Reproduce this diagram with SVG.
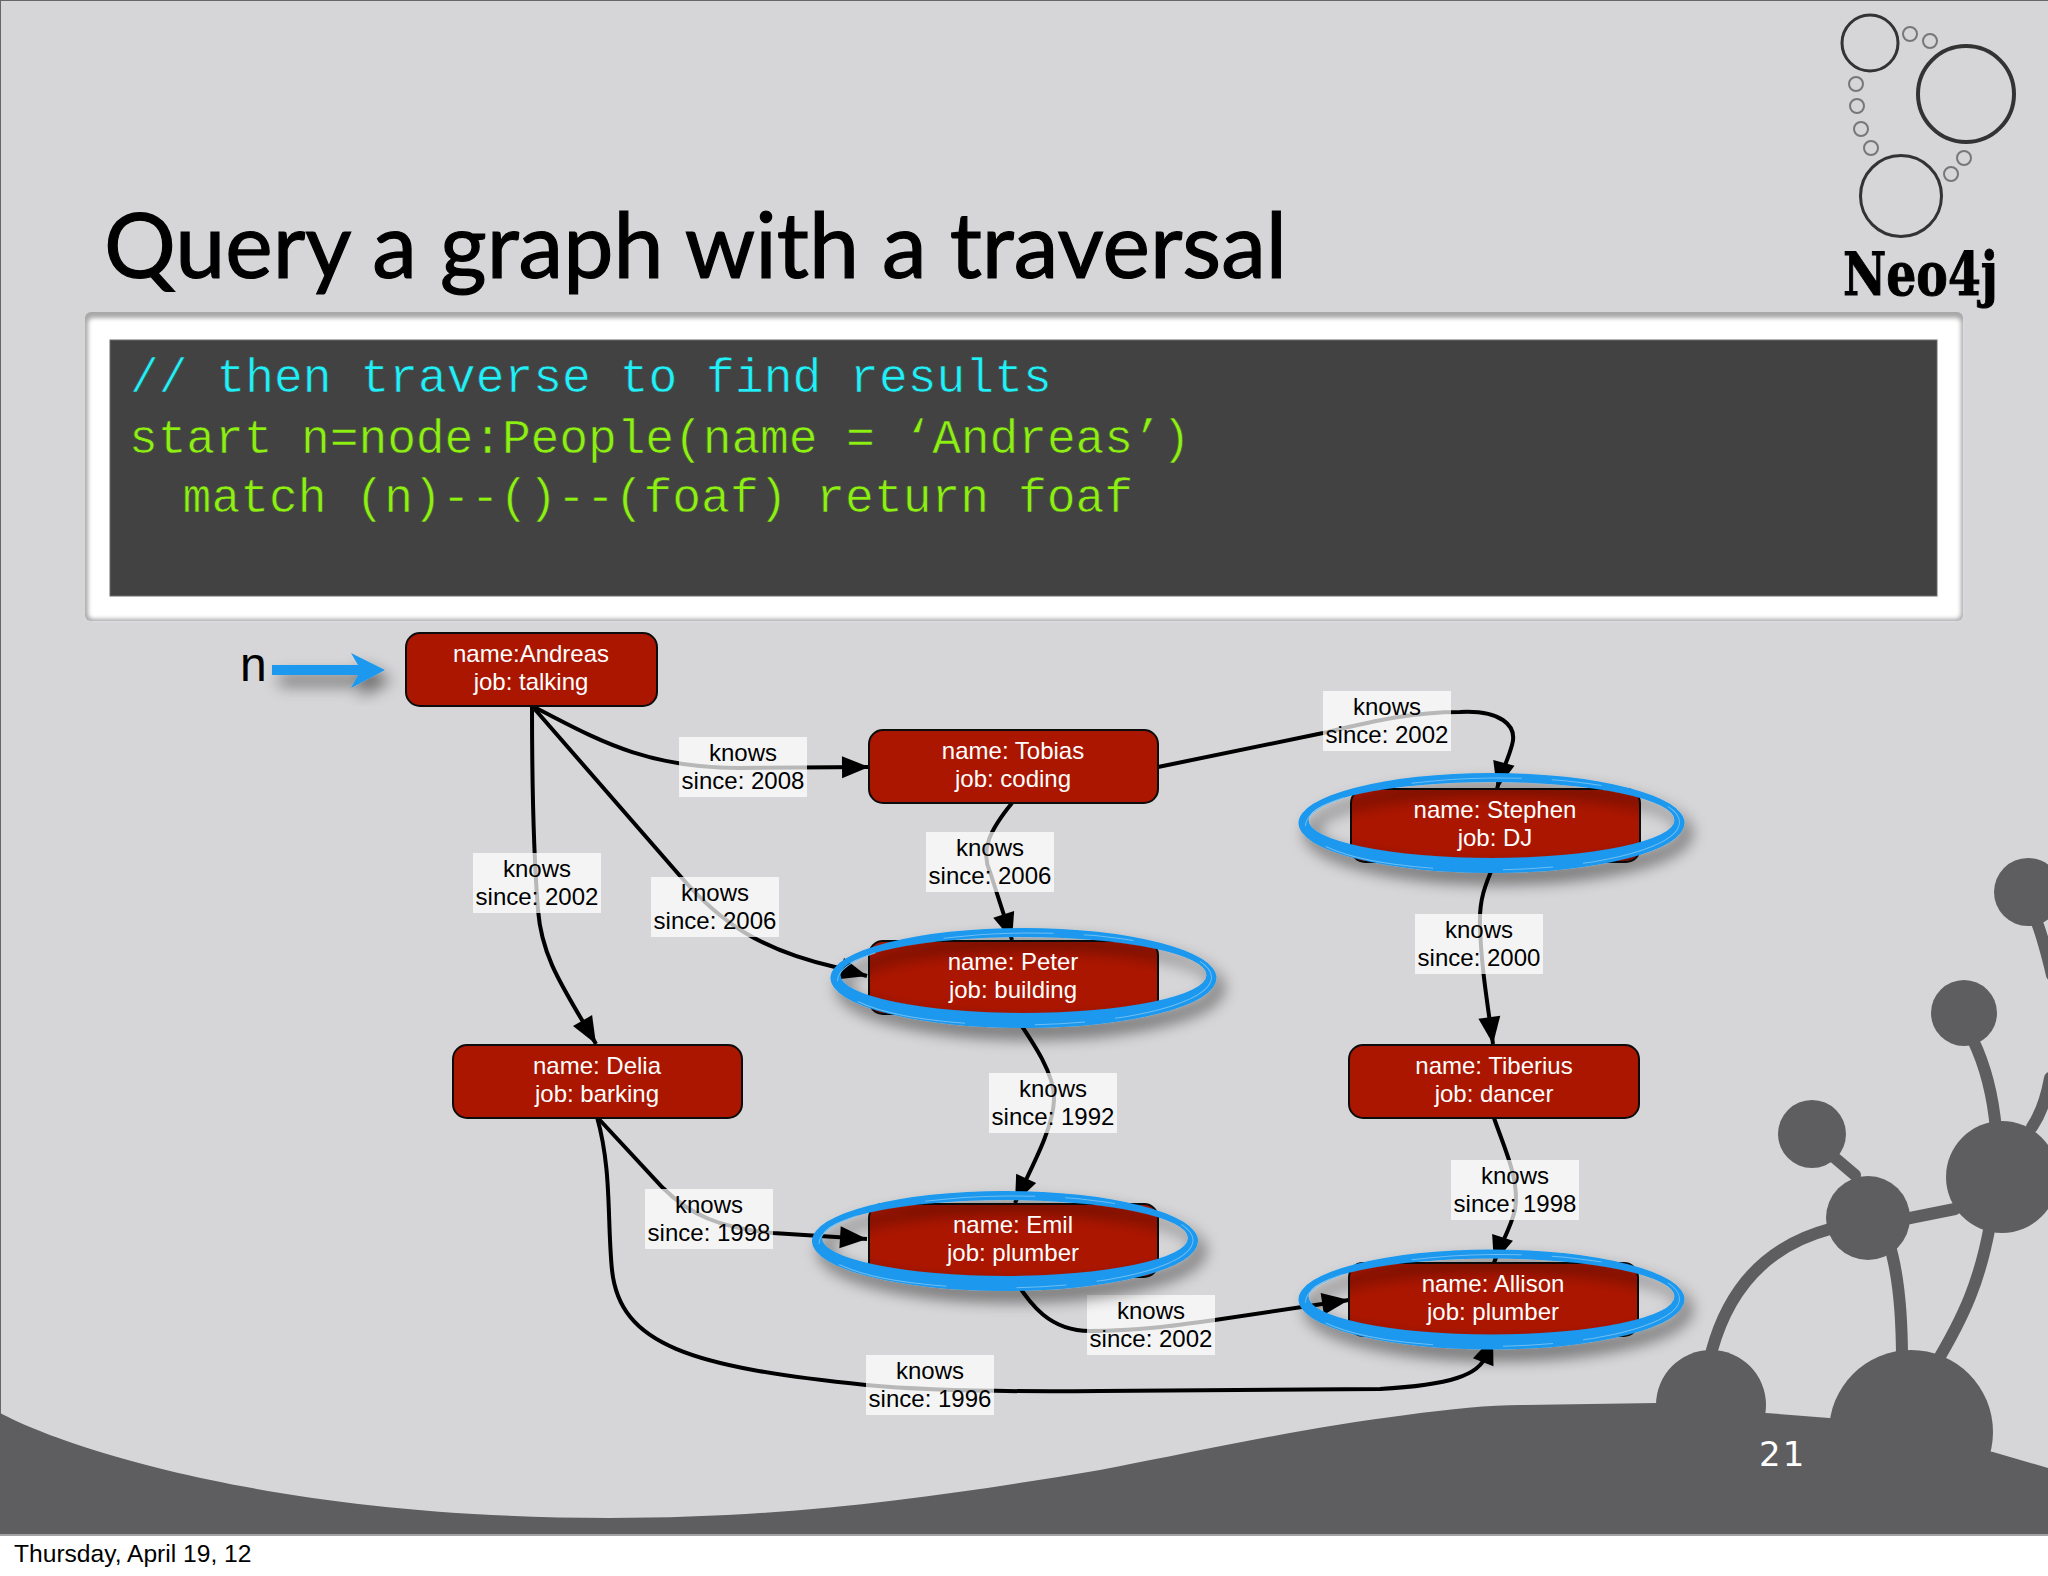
<svg xmlns="http://www.w3.org/2000/svg" xmlns:xlink="http://www.w3.org/1999/xlink" width="2048" height="1576" viewBox="0 0 2048 1576">
<style>
.dark{fill:#5e5d5f}
.stem{fill:none;stroke:#5e5d5f;stroke-width:12;stroke-linecap:round}
.edge{fill:none;stroke:#000;stroke-width:4;marker-end:url(#head)}
.node rect{fill:#ab1600;stroke:#0c0c0c;stroke-width:2}
.node text{font:24px "Liberation Sans",Arial,sans-serif;fill:#fff;text-anchor:middle}
.lab rect{fill:#fff;fill-opacity:.72}
.lab text{font:24px "Liberation Sans",Arial,sans-serif;fill:#000;text-anchor:middle}
.code{font:48px "Liberation Mono","Courier New",monospace;white-space:pre;stroke:#424242;stroke-width:.6}
.bub{fill:none;stroke:#777;stroke-width:2}
.big{fill:none;stroke:#333}
.ringfill{fill:#1a98ee;fill-rule:evenodd}
.scratch{fill:none;stroke:#6fbdf2}
</style>
<defs>
<marker id="head" markerUnits="userSpaceOnUse" markerWidth="30" markerHeight="26" viewBox="0 0 30 26" refX="28" refY="13" orient="auto"><path d="M1 2L28 13L1 24Z" fill="#000"/></marker>
<filter id="sh" x="-15%" y="-40%" width="130%" height="190%"><feGaussianBlur in="SourceAlpha" stdDeviation="8"/><feOffset dx="7" dy="10"/><feComponentTransfer><feFuncA type="linear" slope=".55"/></feComponentTransfer><feMerge><feMergeNode/><feMergeNode in="SourceGraphic"/></feMerge></filter>
<filter id="soft" x="-2%" y="-5%" width="104%" height="110%"><feGaussianBlur stdDeviation="2"/></filter>
<g id="ring">
<path class="ringfill" d="M-193 0A193 50 0 1 0 193 0A193 50 0 1 0-193 0ZM-183 -3A183 38 0 1 0 183 -3A183 38 0 1 0-183 -3Z"/>
<ellipse class="scratch" cx="1" cy="1" rx="187" ry="46" stroke-width="1" stroke-dasharray="110 30 50 70" transform="rotate(-.6)"/>
</g>
</defs>

<rect width="2048" height="1576" fill="#fff"/>
<g id="slide">
<rect x="0" y="0" width="2048" height="1536" fill="#d6d6d8"/>
<path d="M0 0H2048M0 0V1536" fill="none" stroke="#666" stroke-width="2"/>
<path class="dark" d="M0 1413C70 1450 280 1518 610 1518C800 1518 950 1495 1100 1470C1180 1455 1300 1428 1406 1415C1450 1409 1490 1405 1521 1405L1657 1403L1766 1413L1829 1418L1993 1452L2048 1468V1534H0Z"/>
<path d="M0 1535H2048" stroke="#a2a2a2" stroke-width="2"/>
<circle class="dark" cx="1711" cy="1405" r="55"/>
<circle class="dark" cx="1911" cy="1432" r="82"/>
<circle class="dark" cx="2002" cy="1177" r="56"/>
<circle class="dark" cx="1868" cy="1218" r="42"/>
<circle class="dark" cx="1812" cy="1134" r="34"/>
<ellipse class="dark" cx="1964" cy="1013" rx="33" ry="33"/>
<circle class="dark" cx="2028" cy="892" r="34"/>
<path class="stem" d="M1830 1229C1770 1245 1730 1285 1712 1350"/>
<path class="stem" d="M1888 1240C1898 1270 1902 1310 1902 1360"/>
<path class="stem" d="M1990 1225C1980 1280 1965 1315 1935 1365"/>
<path class="stem" d="M1905 1219L1955 1209"/>
<path class="stem" d="M1835 1158L1855 1175"/>
<path class="stem" d="M1973 1040C1985 1065 1993 1095 1996 1130"/>
<path class="stem" d="M2036 920C2042 935 2046 950 2052 975"/>
<path class="stem" d="M2032 1127C2040 1115 2046 1100 2050 1078"/>
<text x="1759" y="1466" font-family="'DejaVu Sans',sans-serif" font-size="34" letter-spacing="2" fill="#fff">21</text>
<text x="14" y="1562" font-family="'Liberation Sans',Arial,sans-serif" font-size="24.6" fill="#000">Thursday, April 19, 12</text>
</g>

<g id="logo">
<circle class="big" cx="1870" cy="43" r="28" stroke-width="3"/>
<circle class="big" cx="1966" cy="94" r="48" stroke-width="4"/>
<circle class="big" cx="1901" cy="196" r="40.5" stroke-width="3"/>
<circle class="bub" cx="1910" cy="34" r="7"/><circle class="bub" cx="1930" cy="41" r="7"/>
<circle class="bub" cx="1856" cy="84" r="7"/><circle class="bub" cx="1857" cy="106" r="7"/>
<circle class="bub" cx="1861" cy="129" r="7"/><circle class="bub" cx="1871" cy="148" r="7"/>
<circle class="bub" cx="1964" cy="158" r="7"/><circle class="bub" cx="1951" cy="174" r="7"/>
<text x="1843" y="295" font-family="'DejaVu Serif',serif" font-weight="700" font-size="59" textLength="155" lengthAdjust="spacingAndGlyphs" fill="#000" stroke="#000" stroke-width="1">Neo4j</text>
</g>

<text id="title" x="104" y="278" font-family="Lato,'Open Sans',sans-serif" font-size="92" textLength="1183" lengthAdjust="spacingAndGlyphs" fill="#000" stroke="#000" stroke-width="1.2">Query a graph with a traversal</text>

<g id="code">
<rect x="85" y="312" width="1878" height="309" rx="6" fill="#a8a8a8"/>
<rect x="88" y="318" width="1873" height="301" rx="5" fill="#fff" filter="url(#soft)"/>
<rect x="110" y="340" width="1827" height="256" fill="#424242" stroke="#6a6a6a" stroke-width="1"/>
<text class="code" x="130" y="392" fill="#20f0f8">// then traverse to find results</text>
<text class="code" x="129" y="453" letter-spacing="-.12" fill="#8cf010">start n=node:People(name = ‘Andreas’)</text>
<text class="code" x="125" y="512" fill="#8cf010">  match (n)--()--(foaf) return foaf</text>
</g>

<g id="pointer">
<text x="240" y="681" font-family="'Liberation Sans',Arial,sans-serif" font-size="48" fill="#000">n</text>
<path d="M272 665H358L351 653L385 670L351 688L358 675H272Z" fill="#1a98ee" filter="url(#sh)"/>
</g>

<g id="connectors">
<path class="edge" d="M532 706C532 790 534 860 538 910C542 960 565 990 596 1044"/>
<path class="edge" d="M532 706C590 735 640 768 740 768L869 767"/>
<path class="edge" d="M532 706L681 877C720 922 760 950 835 967L867 976"/>
<path class="edge" d="M1012 803C990 830 980 850 990 872L1012 940"/>
<path class="edge" d="M1158 767L1323 733C1370 722 1410 712 1460 712C1500 710 1518 725 1512 745C1508 760 1502 770 1497 789"/>
<path class="edge" d="M1495 862C1485 885 1479 900 1480 925C1481 965 1487 1000 1493 1044"/>
<path class="edge" d="M1013 1013C1035 1045 1055 1075 1054 1100C1053 1130 1030 1170 1015 1203"/>
<path class="edge" d="M597 1117L663 1188C690 1215 720 1228 773 1233L867 1239"/>
<path class="edge" d="M597 1117C612 1170 607 1220 612 1270C620 1345 690 1367 866 1385C920 1390 1000 1392 1100 1391L1380 1389C1450 1385 1480 1375 1486 1355L1493 1337"/>
<path class="edge" d="M1013 1277C1030 1305 1050 1331 1090 1331C1140 1331 1180 1325 1215 1320L1349 1300"/>
<path class="edge" d="M1494 1118C1505 1150 1520 1180 1515 1210C1510 1230 1500 1245 1494 1263"/>
</g>

<g id="edge-labels">
<g class="lab"><rect x="679" y="737" width="128" height="60"/><text x="743" y="761">knows</text><text x="743" y="789">since: 2008</text></g>
<g class="lab"><rect x="473" y="853" width="128" height="60"/><text x="537" y="877">knows</text><text x="537" y="905">since: 2002</text></g>
<g class="lab"><rect x="651" y="877" width="128" height="60"/><text x="715" y="901">knows</text><text x="715" y="929">since: 2006</text></g>
<g class="lab"><rect x="926" y="832" width="128" height="60"/><text x="990" y="856">knows</text><text x="990" y="884">since: 2006</text></g>
<g class="lab"><rect x="1323" y="691" width="128" height="60"/><text x="1387" y="715">knows</text><text x="1387" y="743">since: 2002</text></g>
<g class="lab"><rect x="1415" y="914" width="128" height="60"/><text x="1479" y="938">knows</text><text x="1479" y="966">since: 2000</text></g>
<g class="lab"><rect x="989" y="1073" width="128" height="60"/><text x="1053" y="1097">knows</text><text x="1053" y="1125">since: 1992</text></g>
<g class="lab"><rect x="645" y="1189" width="128" height="60"/><text x="709" y="1213">knows</text><text x="709" y="1241">since: 1998</text></g>
<g class="lab"><rect x="1087" y="1295" width="128" height="60"/><text x="1151" y="1319">knows</text><text x="1151" y="1347">since: 2002</text></g>
<g class="lab"><rect x="866" y="1355" width="128" height="60"/><text x="930" y="1379">knows</text><text x="930" y="1407">since: 1996</text></g>
<g class="lab"><rect x="1451" y="1160" width="128" height="60"/><text x="1515" y="1184">knows</text><text x="1515" y="1212">since: 1998</text></g>
</g>

<g id="node-andreas" class="node"><rect x="406" y="633" width="251" height="73" rx="14"/><text x="531" y="662">name:Andreas</text><text x="531" y="690">job: talking</text></g>
<g id="node-tobias" class="node"><rect x="869" y="730" width="289" height="73" rx="14"/><text x="1013" y="759">name: Tobias</text><text x="1013" y="787">job: coding</text></g>
<g id="node-delia" class="node"><rect x="453" y="1045" width="289" height="73" rx="14"/><text x="597" y="1074">name: Delia</text><text x="597" y="1102">job: barking</text></g>
<g id="node-tiberius" class="node"><rect x="1349" y="1045" width="290" height="73" rx="14"/><text x="1494" y="1074">name: Tiberius</text><text x="1494" y="1102">job: dancer</text></g>
<g id="node-stephen" class="node"><rect x="1351" y="789" width="289" height="73" rx="14"/><use xlink:href="#ring" href="#ring" transform="translate(1491.5 823)" filter="url(#sh)"/><text x="1495" y="818">name: Stephen</text><text x="1495" y="846">job: DJ</text></g>
<g id="node-peter" class="node"><rect x="869" y="941" width="289" height="73" rx="14"/><use xlink:href="#ring" href="#ring" transform="translate(1023.5 978)" filter="url(#sh)"/><text x="1013" y="970">name: Peter</text><text x="1013" y="998">job: building</text></g>
<g id="node-emil" class="node"><rect x="869" y="1204" width="289" height="73" rx="14"/><use xlink:href="#ring" href="#ring" transform="translate(1005 1241)" filter="url(#sh)"/><text x="1013" y="1233">name: Emil</text><text x="1013" y="1261">job: plumber</text></g>
<g id="node-allison" class="node"><rect x="1349" y="1263" width="289" height="73" rx="14"/><use xlink:href="#ring" href="#ring" transform="translate(1491.5 1299.5)" filter="url(#sh)"/><text x="1493" y="1292">name: Allison</text><text x="1493" y="1320">job: plumber</text></g>
</svg>
